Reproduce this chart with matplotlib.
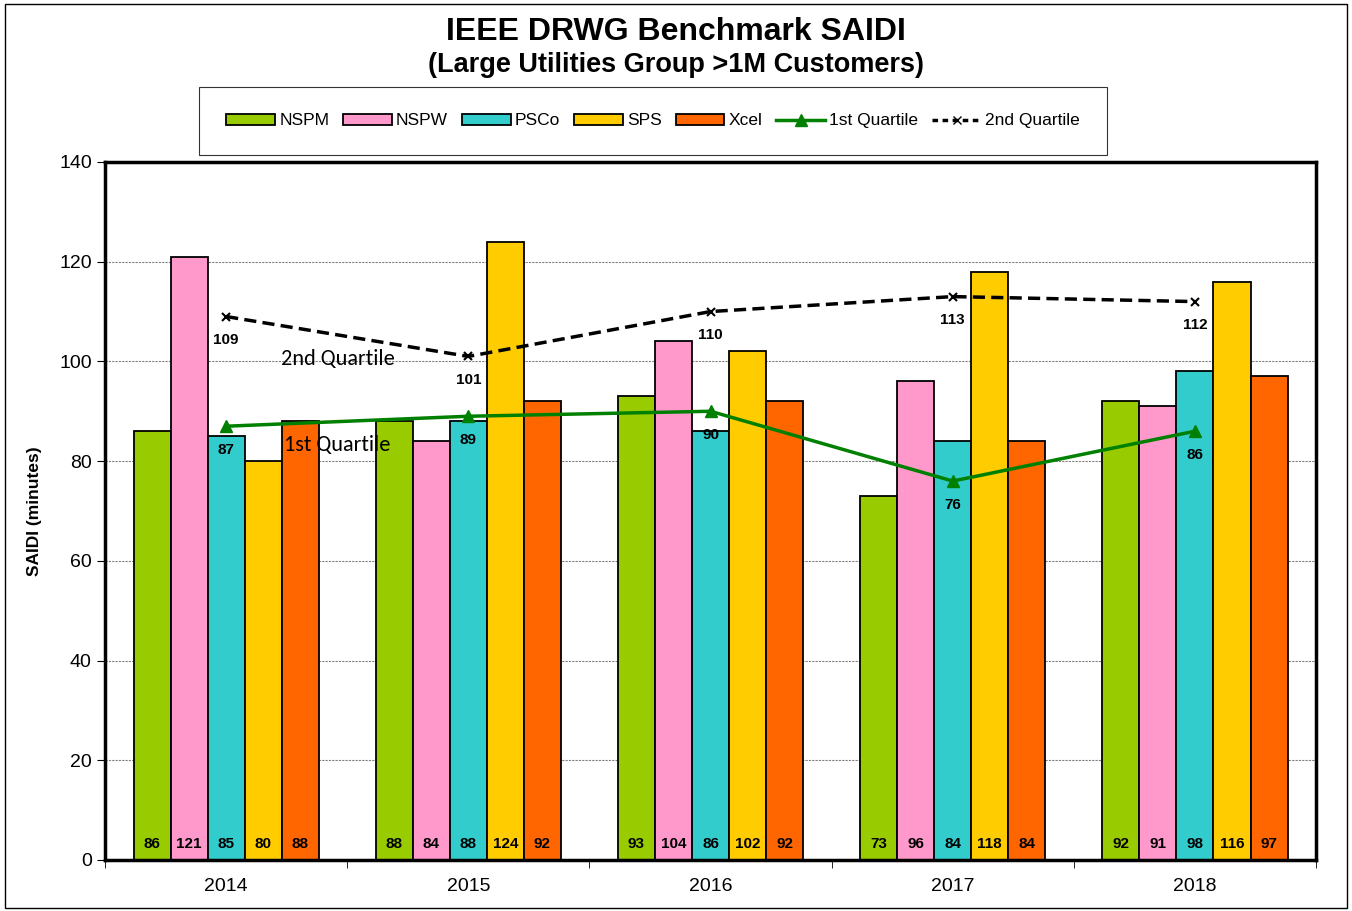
import matplotlib
matplotlib.use("Agg")
import matplotlib.pyplot as plt
import numpy as np
from matplotlib.lines import Line2D
from matplotlib.patches import Patch

plt.rcParams['font.family'] = ['Liberation Sans', 'DejaVu Sans']

years = ["2014", "2015", "2016", "2017", "2018"]
nspm = [86, 88, 93, 73, 92]
nspw = [121, 84, 104, 96, 91]
psco = [85, 88, 86, 84, 98]
sps = [80, 124, 102, 118, 116]
xcel = [88, 92, 92, 84, 97]
q1 = [87, 89, 90, 76, 86]
q2 = [109, 101, 110, 113, 112]

series = [("NSPM", nspm, "#99CC00"), ("NSPW", nspw, "#FF99CC"),
          ("PSCo", psco, "#33CCCC"), ("SPS", sps, "#FFCC00"),
          ("Xcel", xcel, "#FF6600")]

fig = plt.figure(figsize=(13.52, 9.11), dpi=100)
ax = fig.add_axes([0.0777, 0.056, 0.8957, 0.7662])

x = np.arange(len(years))
w = 0.153
for i, (name, vals, col) in enumerate(series):
    pos = x + (i - 2) * w
    ax.bar(pos, vals, width=w, color=col, edgecolor="black", linewidth=1.3, zorder=2)
    for p, v in zip(pos, vals):
        ax.text(p, 3.3, f"{v}", ha="center", va="center", fontsize=11, fontweight="bold", zorder=5)

ax.plot(x, q1, color="#008000", lw=2.5, marker="^", ms=8, zorder=4)
ax.plot(x, q2, color="black", lw=2.5, ls=(0, (3.5, 1.8)), marker="x", ms=6, mew=1.5, zorder=4)
for xi, v in zip(x, q1):
    ax.annotate(f"{v}", (xi, v), xytext=(0, -17), textcoords="offset points",
                ha="center", va="center", fontsize=11, fontweight="bold", zorder=6)
for xi, v in zip(x, q2):
    ax.annotate(f"{v}", (xi, v), xytext=(0, -17), textcoords="offset points",
                ha="center", va="center", fontsize=11, fontweight="bold", zorder=6)

ax.text(0.46, 100.5, "2nd Quartile", ha="center", va="center", fontsize=16,
        family=["Carlito", "Liberation Sans", "DejaVu Sans"], zorder=6)
ax.text(0.46, 83.3, "1st Quartile", ha="center", va="center", fontsize=16,
        family=["Carlito", "Liberation Sans", "DejaVu Sans"], zorder=6)

ax.set_xlim(-0.5, 4.5)
ax.set_ylim(0, 140)
ax.set_yticks(range(0, 141, 20))
ax.yaxis.grid(True, ls=(0, (2, 1)), color="#808080", lw=0.8, zorder=0)
ax.set_axisbelow(True)
ax.set_xticks(x)
ax.set_xticklabels(years, fontsize=14)
ax.set_xticks(np.arange(-0.5, 4.6, 1), minor=True)
ax.tick_params(axis="x", which="major", length=0, pad=13)
ax.tick_params(axis="x", which="minor", length=6, direction="out")
ax.tick_params(axis="y", labelsize=14, length=6, direction="out")
for s in ax.spines.values():
    s.set_linewidth(2.5)
ax.set_ylabel("SAIDI (minutes)", fontsize=12.5, fontweight="bold", labelpad=12)

fig.text(0.5, 0.965, "IEEE DRWG Benchmark SAIDI", ha="center", va="center",
         fontsize=23, fontweight="bold")
fig.text(0.5, 0.929, "(Large Utilities Group >1M Customers)", ha="center", va="center",
         fontsize=19.5, fontweight="bold")

handles = [Patch(facecolor=c, edgecolor="black", linewidth=1.3, label=n) for n, _, c in series]
handles.append(Line2D([], [], color="#008000", lw=2.5, marker="^", ms=8, label="1st Quartile"))
handles.append(Line2D([], [], color="black", lw=2.5, ls=(0, (1.6, 1.3)), marker="x", ms=6, label="2nd Quartile"))
leg = fig.legend(handles=handles, loc="center", bbox_to_anchor=(0.4831, 0.8672), ncol=7,
                 fontsize=12.5, frameon=True, fancybox=False, edgecolor="black",
                 handlelength=2.8, handleheight=0.55, columnspacing=0.8, handletextpad=0.25,
                 borderpad=1.55, borderaxespad=0)
leg.get_frame().set_linewidth(0.8)

fig.patches.append(plt.Rectangle((0.004, 0.003), 0.992, 0.993, transform=fig.transFigure,
                                 fill=False, edgecolor="black", lw=1.0))
fig.savefig("out.png", dpi=100)
